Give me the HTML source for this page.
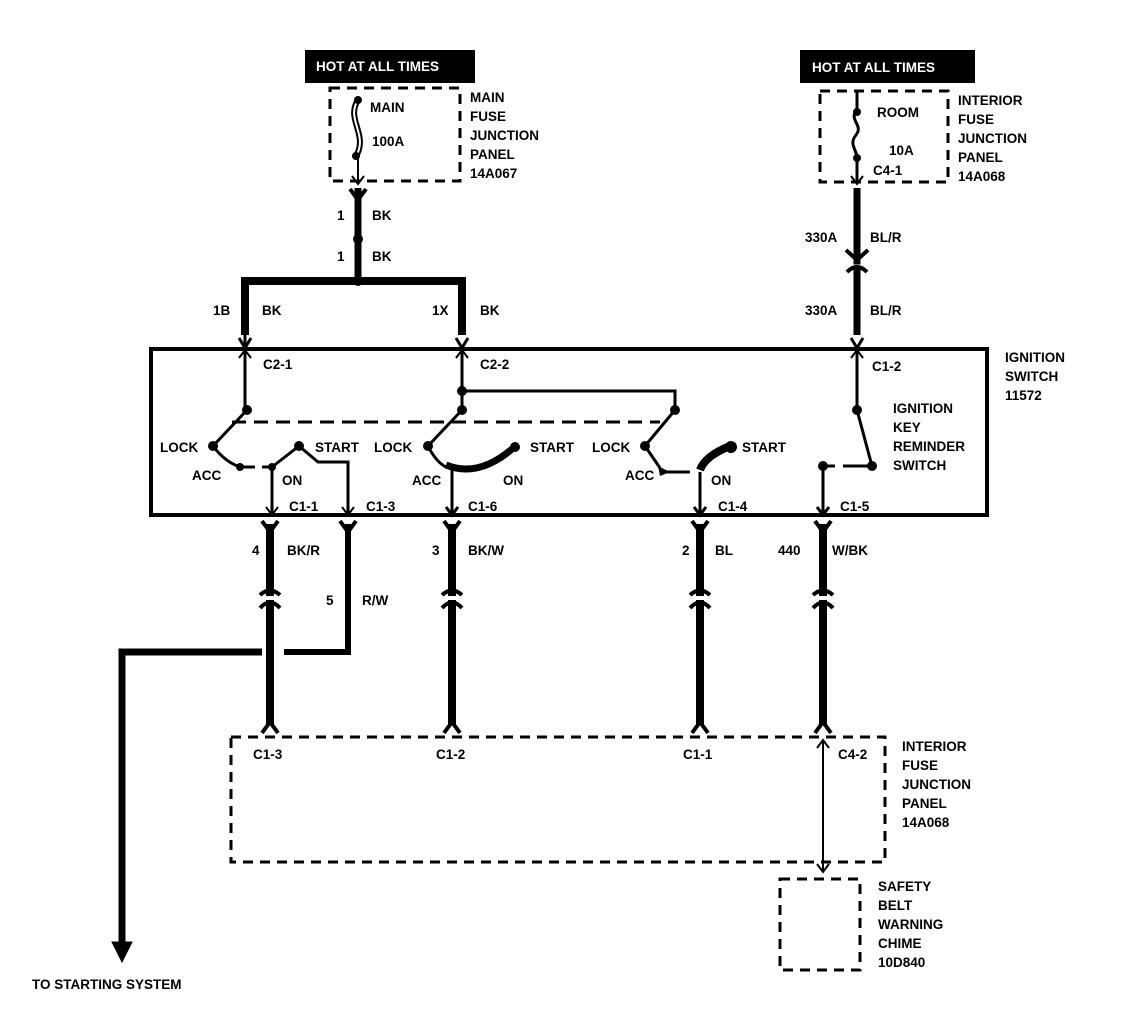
<!DOCTYPE html>
<html><head><style>
html,body{margin:0;padding:0;background:#fff}
svg{display:block}
text{font-family:"Liberation Sans",sans-serif;font-weight:bold;font-size:13.5px;fill:#000}
</style></head><body>
<svg width="1136" height="1010" viewBox="0 0 1136 1010" xmlns="http://www.w3.org/2000/svg">
<defs>
<g id="yc"><path d="M-8,-9 L0,2 L8,-9" fill="none" stroke="#000" stroke-width="4"/></g>
<g id="cap"><path d="M-10,0 H10" stroke="#fff" stroke-width="4"/><path d="M-10,-3 Q0,-12 10,-3" fill="none" stroke="#000" stroke-width="4"/><path d="M-10,10 Q0,-1 10,10" fill="none" stroke="#000" stroke-width="4"/></g>
</defs>
<g stroke="#000" fill="none">
<!-- top left -->
<rect x="305" y="50" width="170" height="33" fill="#000" stroke="none"/>
<rect x="330" y="88" width="130" height="93" stroke-width="3" stroke-dasharray="10,7"/>
<path d="M358,100 C345,120 370,135 355,158 " stroke-width="6"/>
<path d="M358,100 C345,120 370,135 355,158 " stroke="#fff" stroke-width="2"/>
<line x1="358" y1="158" x2="358" y2="182" stroke-width="2"/>
<path d="M352,176 L358,184 L364,176" stroke-width="2"/>
<line x1="358" y1="188" x2="358" y2="281" stroke-width="7"/>
<path d="M245,335 L245,281 L462,281 L462,335" stroke-width="8"/>
<!-- top right -->
<rect x="800" y="50" width="175" height="33" fill="#000" stroke="none"/>
<rect x="820" y="91" width="128" height="91" stroke-width="3" stroke-dasharray="10,7"/>
<path d="M857,92 L857,110 C848,120 864,125 856,135 C848,145 858,150 857,160 L857,182" stroke-width="3"/>
<path d="M851,176 L857,184 L863,176" stroke-width="2"/>
<line x1="857" y1="188" x2="857" y2="335" stroke-width="7"/>
<path d="M846,250 L857,260 L868,250" stroke-width="4"/>
<path d="M846,266 H868" stroke="#fff" stroke-width="3"/>
<path d="M847,272 Q857,262 867,272" stroke-width="4"/>
<!-- box -->
<rect x="151" y="349" width="836" height="166" stroke-width="4"/>
<path d="M239,338 L245,348 L251,338 M245,348 V335" stroke-width="3"/>
<path d="M456,338 L462,348 L468,338" stroke-width="3"/>
<path d="M851,338 L857,348 L863,338" stroke-width="3"/>
<!-- switch 1 -->
<path d="M245,350 V410 M247,410 L213,446" stroke-width="3"/>
<path d="M239,358 L245,350 L251,358" stroke-width="2"/>
<path d="M213,446 Q225,462 240,467 M240,467 H255 M262,467 H272" stroke-width="3"/>
<path d="M272,467 L299,446 L318,462 H348 V515 M272,467 V515" stroke-width="3"/>
<path d="M266,507 L272,515 L278,507 M342,507 L348,515 L354,507" stroke-width="2"/>
<line x1="232" y1="422" x2="660" y2="422" stroke-width="3" stroke-dasharray="14,8"/>
<!-- switch 2 -->
<path d="M462,350 V410 M462,391 H675 V410 M462,410 L428,446" stroke-width="3"/>
<path d="M456,358 L462,350 L468,358" stroke-width="2"/>
<path d="M428,446 Q436,462 446,467" stroke-width="3"/>
<path d="M446,465 Q478,478 512,449" stroke-width="7"/>
<path d="M452,467 V515 M446,507 L452,515 L458,507" stroke-width="3"/>
<!-- switch 3 -->
<path d="M675,410 L645,446 M645,446 L660,468" stroke-width="3"/>
<path d="M666,472 H690" stroke-width="3"/>
<path d="M700,470 Q705,456 730,446" stroke-width="8"/>
<path d="M700,472 V515 M694,507 L700,515 L706,507" stroke-width="3"/>
<!-- key reminder -->
<path d="M857,350 V410 L872,466 M857,358" stroke-width="3"/>
<path d="M851,358 L857,350 L863,358" stroke-width="2"/>
<path d="M823,466 H835 M843,466 H872" stroke-width="3"/>
<path d="M823,466 V515 M817,507 L823,515 L829,507" stroke-width="3"/>
<!-- lower wires -->
<line x1="270" y1="524" x2="270" y2="725" stroke-width="8"/>
<line x1="452" y1="524" x2="452" y2="725" stroke-width="8"/>
<line x1="700" y1="524" x2="700" y2="725" stroke-width="8"/>
<line x1="823" y1="524" x2="823" y2="725" stroke-width="8"/>
<path d="M348,524 V652 H284" stroke-width="6"/>
<path d="M262,652 H122 V945" stroke-width="7"/>
<path d="M112,942 L122,962 L132,942 Z" fill="#000" stroke-width="1"/>
<rect x="231" y="737" width="654" height="125" stroke-width="3" stroke-dasharray="10,7"/>
<line x1="823" y1="740" x2="823" y2="872" stroke-width="2"/>
<path d="M817,748 L823,740 L829,748 M817,864 L823,872 L829,864" stroke-width="2"/>
<rect x="780" y="879" width="80" height="91" stroke-width="3" stroke-dasharray="10,7"/>
</g>
<g>
<use href="#yc" x="358" y="198"/>
<use href="#yc" x="270" y="530"/><use href="#yc" x="348" y="530"/><use href="#yc" x="452" y="530"/><use href="#yc" x="700" y="530"/><use href="#yc" x="823" y="530"/>
<use href="#cap" x="270" y="598"/><use href="#cap" x="452" y="598"/><use href="#cap" x="700" y="598"/><use href="#cap" x="823" y="598"/>
<g transform="scale(1,-1)"><use href="#yc" x="270" y="-724"/><use href="#yc" x="452" y="-724"/><use href="#yc" x="700" y="-724"/><use href="#yc" x="823" y="-724"/></g>
</g>
<g fill="#000">
<circle cx="358" cy="100" r="4"/><circle cx="356" cy="156" r="4"/>
<circle cx="358" cy="239" r="5"/><circle cx="358" cy="281" r="5"/>
<circle cx="857" cy="112" r="4"/><circle cx="857" cy="158" r="4"/>
<circle cx="247" cy="410" r="5"/><circle cx="213" cy="446" r="5"/><circle cx="240" cy="467" r="4"/><circle cx="272" cy="467" r="4"/><circle cx="299" cy="446" r="5"/>
<circle cx="462" cy="391" r="5"/><circle cx="462" cy="410" r="5"/><circle cx="428" cy="446" r="5"/><circle cx="515" cy="447" r="5"/>
<circle cx="675" cy="410" r="5"/><circle cx="645" cy="446" r="5"/><path d="M658,466 L670,472 L660,476 Z"/><circle cx="731" cy="447" r="6"/>
<circle cx="857" cy="410" r="5"/><circle cx="872" cy="466" r="5"/><circle cx="823" cy="466" r="5"/>
</g>
<text x="316" y="71" style="fill:#fff">HOT AT ALL TIMES</text>
<text x="812" y="72" style="fill:#fff">HOT AT ALL TIMES</text>
<text x="370" y="112">MAIN</text><text x="372" y="146">100A</text>
<text x="470" y="102">MAIN</text><text x="470" y="121">FUSE</text><text x="470" y="140">JUNCTION</text><text x="470" y="159">PANEL</text><text x="470" y="178">14A067</text>
<text x="877" y="117">ROOM</text><text x="889" y="155">10A</text><text x="873" y="175">C4-1</text>
<text x="958" y="105">INTERIOR</text><text x="958" y="124">FUSE</text><text x="958" y="143">JUNCTION</text><text x="958" y="162">PANEL</text><text x="958" y="181">14A068</text>
<text x="337" y="220">1</text><text x="372" y="220">BK</text>
<text x="337" y="261">1</text><text x="372" y="261">BK</text>
<text x="213" y="315">1B</text><text x="262" y="315">BK</text>
<text x="432" y="315">1X</text><text x="480" y="315">BK</text>
<text x="805" y="242">330A</text><text x="870" y="242">BL/R</text>
<text x="805" y="315">330A</text><text x="870" y="315">BL/R</text>
<text x="1005" y="362">IGNITION</text><text x="1005" y="381">SWITCH</text><text x="1005" y="400">11572</text>
<text x="263" y="369">C2-1</text><text x="480" y="369">C2-2</text><text x="872" y="371">C1-2</text>
<text x="160" y="452">LOCK</text><text x="192" y="480">ACC</text><text x="282" y="485">ON</text><text x="315" y="452">START</text>
<text x="374" y="452">LOCK</text><text x="412" y="485">ACC</text><text x="503" y="485">ON</text><text x="530" y="452">START</text>
<text x="592" y="452">LOCK</text><text x="625" y="480">ACC</text><text x="711" y="485">ON</text><text x="742" y="452">START</text>
<text x="893" y="413">IGNITION</text><text x="893" y="432">KEY</text><text x="893" y="451">REMINDER</text><text x="893" y="470">SWITCH</text>
<text x="289" y="511">C1-1</text><text x="366" y="511">C1-3</text><text x="468" y="511">C1-6</text><text x="718" y="511">C1-4</text><text x="840" y="511">C1-5</text>
<text x="252" y="555">4</text><text x="287" y="555">BK/R</text>
<text x="326" y="605">5</text><text x="362" y="605">R/W</text>
<text x="432" y="555">3</text><text x="468" y="555">BK/W</text>
<text x="682" y="555">2</text><text x="715" y="555">BL</text>
<text x="778" y="555">440</text><text x="832" y="555">W/BK</text>
<text x="253" y="759">C1-3</text><text x="436" y="759">C1-2</text><text x="683" y="759">C1-1</text><text x="838" y="759">C4-2</text>
<text x="902" y="751">INTERIOR</text><text x="902" y="770">FUSE</text><text x="902" y="789">JUNCTION</text><text x="902" y="808">PANEL</text><text x="902" y="827">14A068</text>
<text x="878" y="891">SAFETY</text><text x="878" y="910">BELT</text><text x="878" y="929">WARNING</text><text x="878" y="948">CHIME</text><text x="878" y="967">10D840</text>
<text x="32" y="989">TO STARTING SYSTEM</text>
</svg>
</body></html>
